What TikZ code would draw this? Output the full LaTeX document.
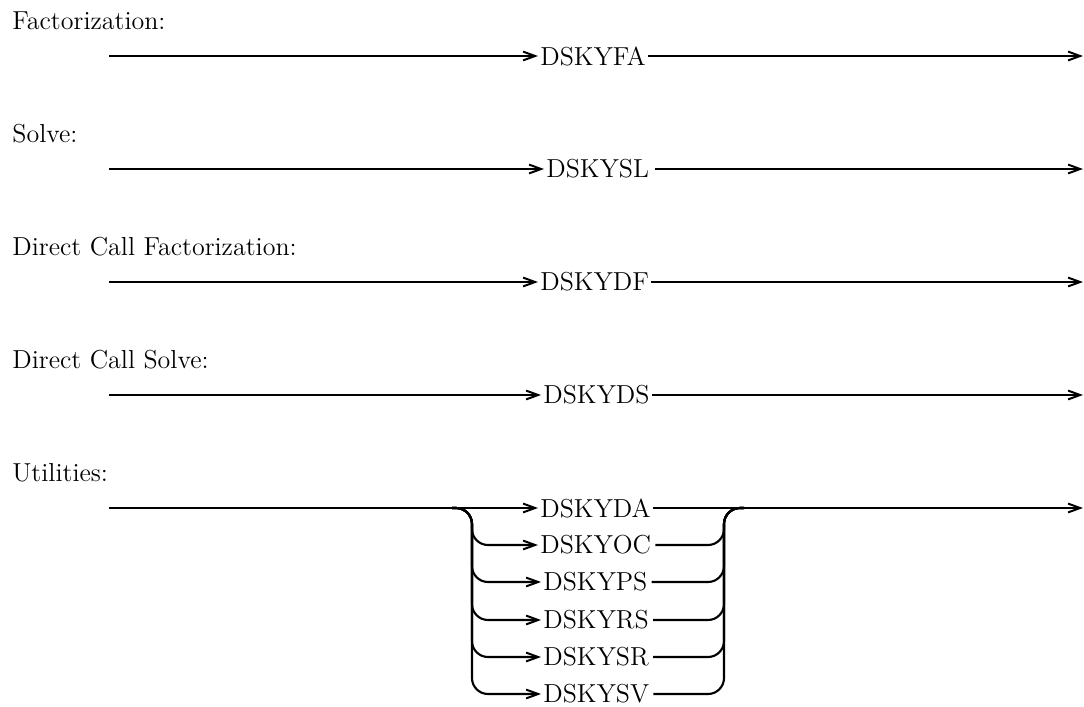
\documentclass[tikz,border=0pt]{standalone}
\usetikzlibrary{arrows.meta}
\begin{document}
\begin{tikzpicture}[x=0.5pt,y=-0.5pt,
  rail/.style={line width=1.05pt},
  arr/.style={rail, -{Straight Barb[length=6pt,width=4.4pt,line width=1pt]}},
  lbl/.style={anchor=base west, inner sep=0pt, font=\fontsize{13}{15}\selectfont},
  rout/.style={anchor=west, inner xsep=1pt, inner ysep=0pt, font=\fontsize{13}{15}\selectfont},
  roundbend/.style={rounded corners=8pt}]
\useasboundingbox (0,0) rectangle (1084,707);

% section labels
\node[lbl] (l1) at (12,29) {Factorization:};
\node[lbl] (l2) at (12,142) {Solve:};
\node[lbl] (l3) at (12,255) {Direct Call Factorization:};
\node[lbl] (l4) at (12,368) {Direct Call Solve:};
\node[lbl] (l5) at (12,481) {Utilities:};

% start and end points
\coordinate (s1) at (109,56);   \coordinate (e1) at (1083,56);
\coordinate (s2) at (109,169);  \coordinate (e2) at (1083,169);
\coordinate (s3) at (109,282);  \coordinate (e3) at (1083,282);
\coordinate (s4) at (109,395);  \coordinate (e4) at (1083,395);
\coordinate (s5) at (109,508);  \coordinate (e5) at (1083,508);

% single routines
\node[rout] (fa) at (538,56) {DSKYFA};
\node[rout] (sl) at (544,169) {DSKYSL};
\node[rout] (df) at (538,282) {DSKYDF};
\node[rout] (ds) at (541,395) {DSKYDS};

\draw[arr] (s1) -- (fa.west);  \draw[arr] (fa.east) -- (e1);
\draw[arr] (s2) -- (sl.west);  \draw[arr] (sl.east) ++(4,0) -- (e2);
\draw[arr] (s3) -- (df.west);  \draw[arr] (df.east) -- (e3);
\draw[arr] (s4) -- (ds.west);  \draw[arr] (ds.east) -- (e4);

% utilities
\node[rout] (da) at (538,508) {DSKYDA};
\node[rout] (oc) at (538,545) {DSKYOC};
\node[rout] (ps) at (541,582) {DSKYPS};
\node[rout] (rs) at (541,620) {DSKYRS};
\node[rout] (sr) at (541,657) {DSKYSR};
\node[rout] (sv) at (541,694) {DSKYSV};

\coordinate (sL) at (452,508);
\coordinate (sR) at (744,508);

\draw[arr] (s5) -- (da.west);
\draw[arr] (da.east) -- (e5);

\foreach \n/\y in {oc/545, ps/582, rs/620, sr/657, sv/694}{
  \draw[arr, roundbend] (sL) -- (472,508) -- (472,\y) -- (\n.west);
  \draw[rail, roundbend] (\n.east) ++(2,0) -- (724,\y) -- (724,508) -- (sR);
}
\end{tikzpicture}
\end{document}
